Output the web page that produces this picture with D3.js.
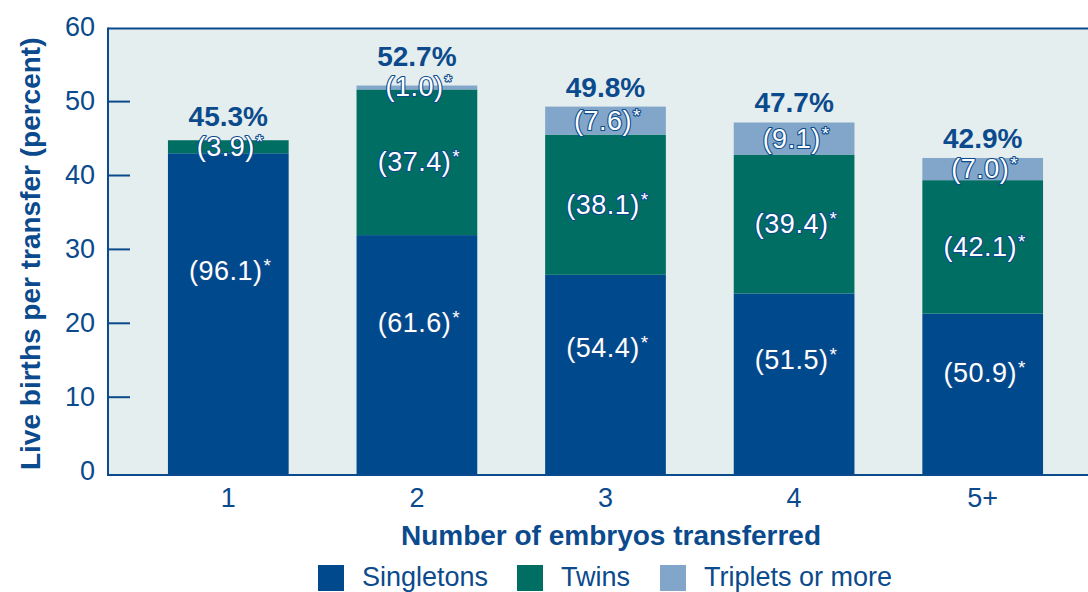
<!DOCTYPE html>
<html><head><meta charset="utf-8">
<script src="https://cdn.jsdelivr.net/npm/d3@7"></script>
<style>
body{margin:0;background:#fff;}
text{font-family:"Liberation Sans",Arial,Helvetica,sans-serif;}
</style></head>
<body><svg id="c" width="1088" height="592"></svg>
<script>
const categories = ["1","2","3","4","5+"];
const totals = [45.3, 52.7, 49.8, 47.7, 42.9];
const singletons = [96.1, 61.6, 54.4, 51.5, 50.9];
const twins = [3.9, 37.4, 38.1, 39.4, 42.1];
const triplets = [0, 1.0, 7.6, 9.1, 7.0];
const yTicks = [0,10,20,30,40,50,60];
const seriesNames = ["Singletons","Twins","Triplets or more"];

const colors = ["#00498c","#006e63","#81a6c9"];
const txt = "#0b4a8c";
const svg = d3.select("#c");
const L = 108, R = 1088, T = 28.5, B = 475;

const x = d3.scaleBand().domain(categories).range([134, 1077]).paddingInner(0.36).paddingOuter(0.18);
const y = d3.scaleLinear().domain([0,60]).range([B, B-443.4]);
const tickShift = -4.4;

svg.append("rect").attr("x",L).attr("y",T).attr("width",R-L).attr("height",B-T).attr("fill","#e5eeee");

const rows = categories.map((c,i)=>{
  const pcts = [singletons[i], twins[i], triplets[i]];
  let acc = 0;
  const segs = pcts.map((p,k)=>{
    const v = totals[i]*p/100;
    const s = {cat:c, k, p, y0:acc, y1:acc+v};
    acc += v; return s;
  });
  return {cat:c, total:totals[i], segs};
});

const g = svg.append("g");
rows.forEach(r=>{
  r.segs.forEach(s=>{
    if (s.p<=0) return;
    g.append("rect").attr("x",x(r.cat)).attr("width",x.bandwidth())
      .attr("y",y(s.y1)).attr("height",y(s.y0)-y(s.y1)).attr("fill",colors[s.k]);
  });
});

// frame
svg.append("line").attr("x1",L).attr("x2",R).attr("y1",T).attr("y2",T).attr("stroke",txt).attr("stroke-width",2);
svg.append("line").attr("x1",L).attr("x2",R).attr("y1",B).attr("y2",B).attr("stroke",txt).attr("stroke-width",2);
svg.append("line").attr("x1",L).attr("x2",L).attr("y1",T-1).attr("y2",B+1).attr("stroke",txt).attr("stroke-width",2);

// y axis
const ya = svg.append("g").attr("transform",`translate(${L},${tickShift})`)
  .call(d3.axisLeft(y).tickValues(yTicks).tickSize(-22).tickPadding(13));
ya.select(".domain").remove();
ya.selectAll(".tick line").attr("stroke",txt).attr("stroke-width",2).filter(d=>d===0||d===60).remove();
ya.selectAll(".tick text").attr("fill",txt).style("font-size","27px");

// x axis
const xa = svg.append("g").attr("transform",`translate(0,${B})`)
  .call(d3.axisBottom(x).tickSize(0).tickPadding(13));
xa.select(".domain").remove();
xa.selectAll(".tick text").attr("fill",txt).style("font-size","27px");

// titles
svg.append("text").attr("x",611).attr("y",545).attr("text-anchor","middle")
  .attr("fill",txt).style("font-size","28px").style("font-weight","bold").text("Number of embryos transferred");
svg.append("text").attr("transform",`translate(40,${(T+B)/2+2}) rotate(-90)`).attr("text-anchor","middle")
  .attr("fill",txt).style("font-size","28px").style("font-weight","bold").text("Live births per transfer (percent)");

// total labels
rows.forEach(r=>{
  const top = r.segs.filter(s=>s.p>0).slice(-1)[0];
  const h = y(top.y0)-y(top.y1);
  const off = Math.max(10, 21 - h/2);
  svg.append("text").attr("x",x(r.cat)+x.bandwidth()/2).attr("y",y(r.total)-off)
    .attr("text-anchor","middle").attr("fill",txt).style("font-size","28px").style("font-weight","bold")
    .text(d3.format(".1f")(r.total)+"%");
});

// segment labels
rows.forEach(r=>{
  r.segs.forEach(s=>{
    if (s.p<=0) return;
    const frac = s.k===0 ? 0.635 : 0.5;
    const cy = y(s.y0 + (s.y1-s.y0)*frac);
    const t = svg.append("text").attr("x",x(r.cat)+x.bandwidth()/2+2).attr("y",cy+9)
      .attr("text-anchor","middle").attr("fill","#fff").attr("stroke",txt).attr("stroke-width",2.2)
      .attr("paint-order","stroke").attr("stroke-linejoin","round").style("font-size","27px")
      .style("letter-spacing","0.5px");
    t.append("tspan").text("("+d3.format(".1f")(s.p)+")");
    t.append("tspan").attr("dy",-8).attr("dx",1).style("font-size","19px").text("*");
  });
});

// legend
const lx = [318, 517, 660];
seriesNames.forEach((n,i)=>{
  svg.append("rect").attr("x",lx[i]).attr("y",565).attr("width",26).attr("height",26).attr("fill",colors[i]);
  svg.append("text").attr("x",lx[i]+44).attr("y",586).attr("fill",txt).style("font-size","27px").text(n);
});
</script></body></html>
